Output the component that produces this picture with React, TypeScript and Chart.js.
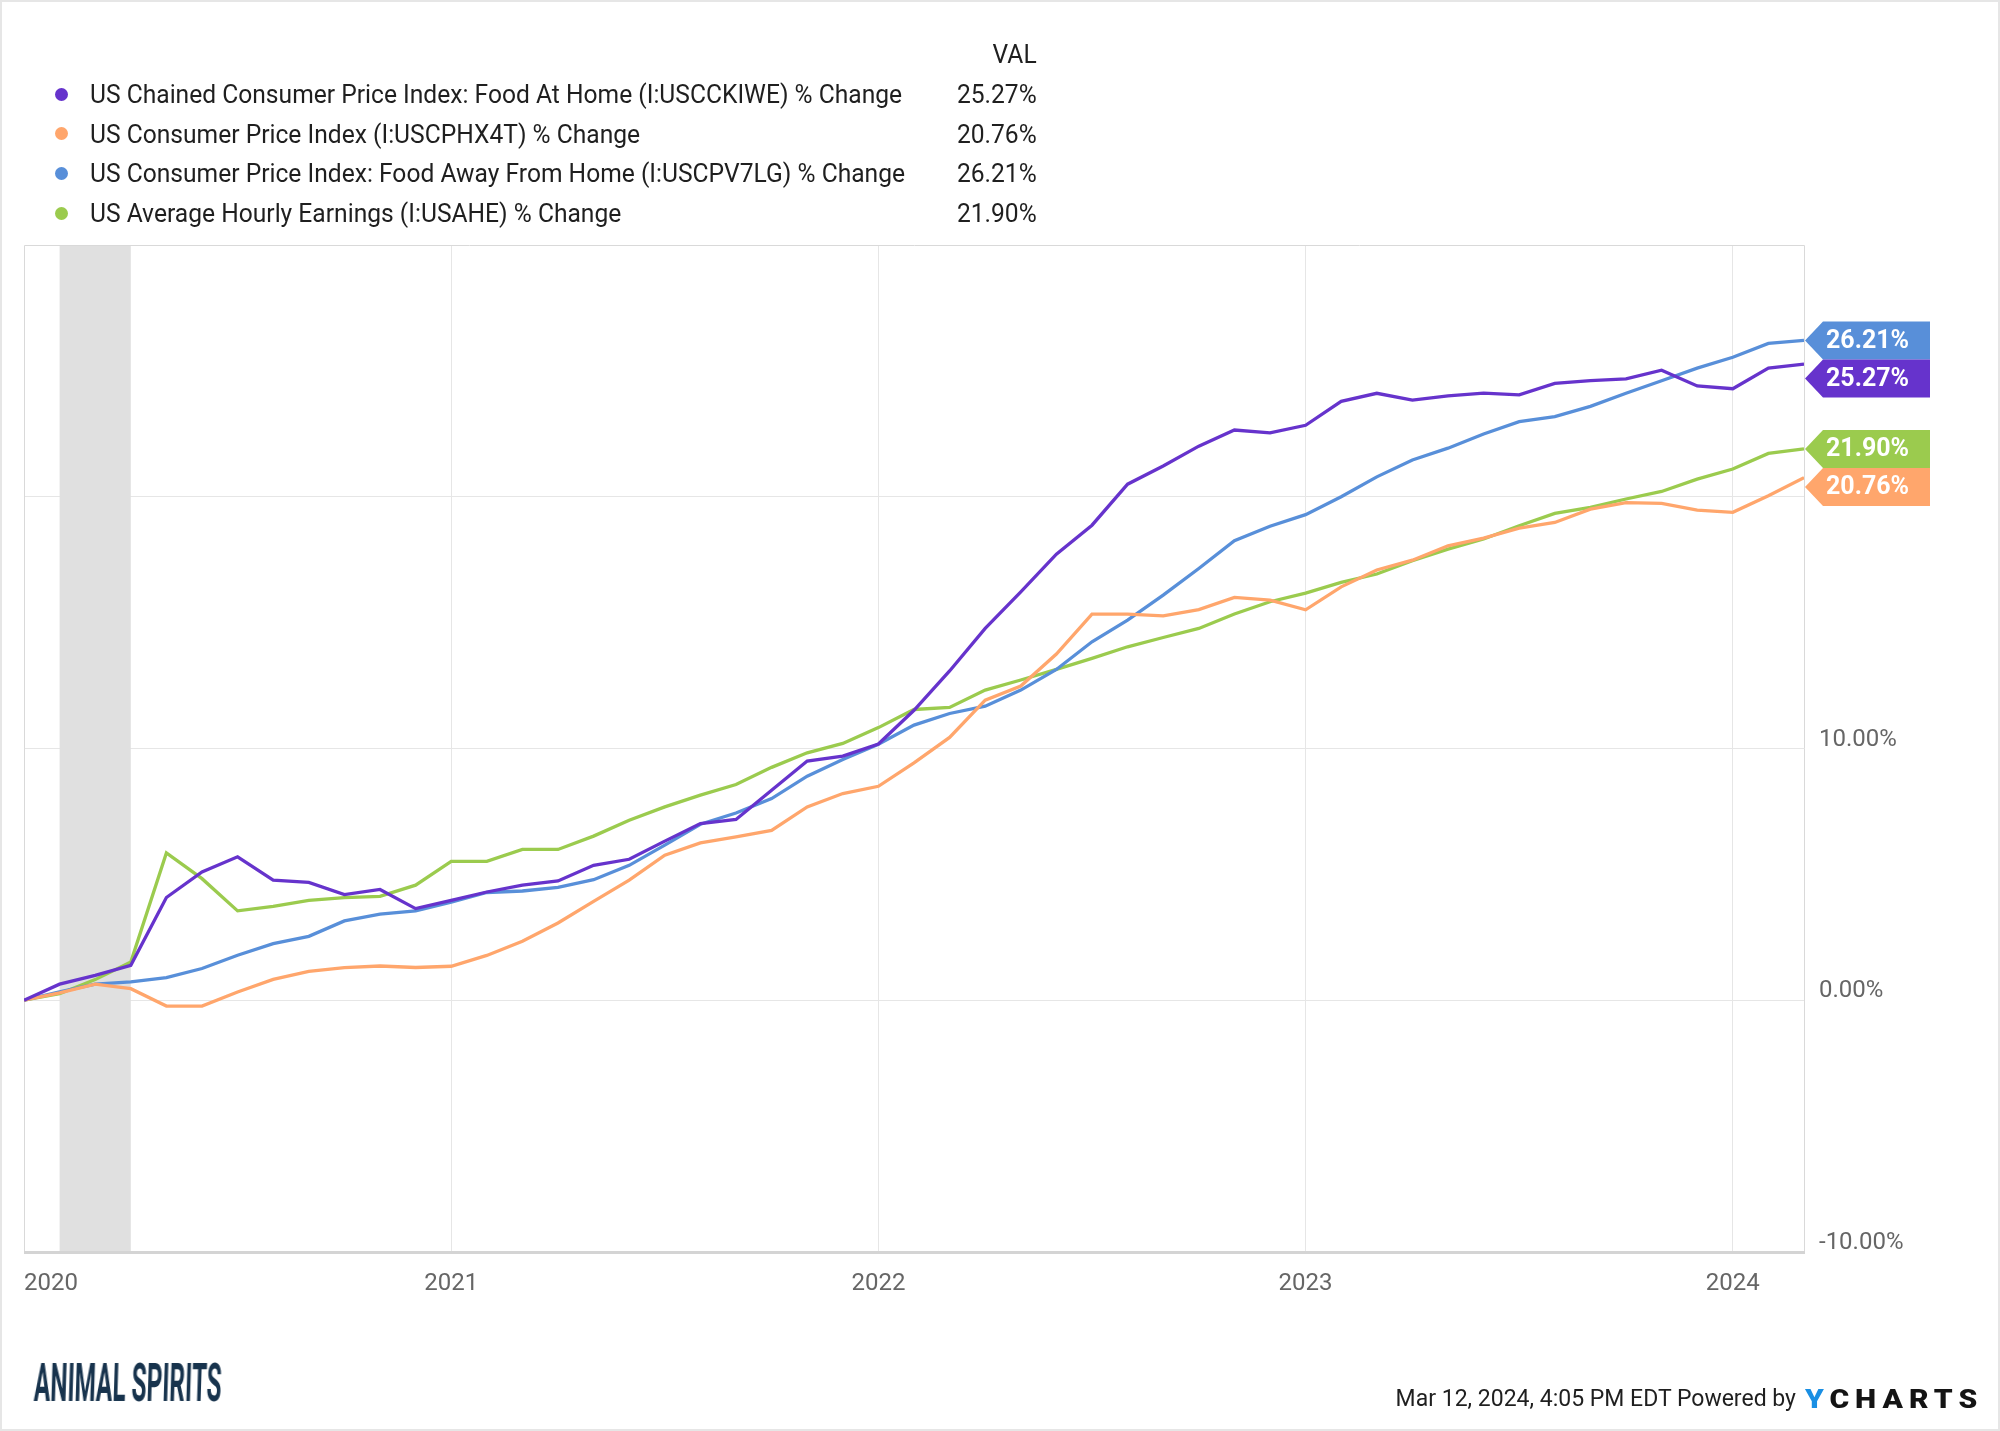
import React, { useEffect, useRef } from 'react';
import { Chart, registerables } from 'chart.js';

Chart.register(...registerables);

// Month-end observations, Dec 2019 (base) through Feb 2024
const months = [
  '2019-12',
  '2020-01', '2020-02', '2020-03', '2020-04', '2020-05', '2020-06', '2020-07', '2020-08', '2020-09', '2020-10', '2020-11', '2020-12',
  '2021-01', '2021-02', '2021-03', '2021-04', '2021-05', '2021-06', '2021-07', '2021-08', '2021-09', '2021-10', '2021-11', '2021-12',
  '2022-01', '2022-02', '2022-03', '2022-04', '2022-05', '2022-06', '2022-07', '2022-08', '2022-09', '2022-10', '2022-11', '2022-12',
  '2023-01', '2023-02', '2023-03', '2023-04', '2023-05', '2023-06', '2023-07', '2023-08', '2023-09', '2023-10', '2023-11', '2023-12',
  '2024-01', '2024-02',
];

const foodAtHome = [
  0, 0.64, 0.99, 1.39, 4.08, 5.10, 5.70, 4.77, 4.68, 4.20, 4.40, 3.64, 3.97,
  4.30, 4.57, 4.74, 5.36, 5.60, 6.32, 7.02, 7.18, 8.34, 9.50, 9.70, 10.18,
  11.52, 13.08, 14.77, 16.22, 17.72, 18.87, 20.50, 21.22, 22.01, 22.65, 22.54, 22.84,
  23.79, 24.11, 23.84, 24.01, 24.12, 24.05, 24.50, 24.61, 24.68, 25.03, 24.40, 24.29,
  25.11, 25.27,
];

const cpiAllItems = [
  0, 0.29, 0.64, 0.46, -0.23, -0.23, 0.33, 0.83, 1.15, 1.30, 1.36, 1.30, 1.35,
  1.78, 2.34, 3.07, 3.93, 4.77, 5.76, 6.25, 6.49, 6.75, 7.68, 8.21, 8.50,
  9.43, 10.44, 11.92, 12.48, 13.75, 15.34, 15.34, 15.27, 15.52, 16.00, 15.89, 15.51,
  16.42, 17.09, 17.48, 18.05, 18.36, 18.75, 18.98, 19.51, 19.77, 19.74, 19.47, 19.38,
  20.04, 20.76,
];

const foodAwayFromHome = [
  0, 0.33, 0.64, 0.73, 0.90, 1.26, 1.79, 2.25, 2.54, 3.15, 3.42, 3.55, 3.90,
  4.28, 4.34, 4.48, 4.79, 5.36, 6.16, 6.99, 7.44, 8.01, 8.90, 9.56, 10.17,
  10.93, 11.39, 11.68, 12.32, 13.14, 14.24, 15.10, 16.09, 17.15, 18.25, 18.83, 19.29,
  20.00, 20.79, 21.46, 21.93, 22.49, 22.98, 23.18, 23.59, 24.11, 24.61, 25.11, 25.54,
  26.09, 26.21,
];

const hourlyEarnings = [
  0, 0.26, 0.82, 1.52, 5.85, 4.83, 3.55, 3.73, 3.97, 4.08, 4.13, 4.57, 5.52,
  5.52, 5.99, 5.99, 6.52, 7.15, 7.68, 8.15, 8.57, 9.25, 9.83, 10.20, 10.83,
  11.55, 11.63, 12.32, 12.72, 13.14, 13.58, 14.04, 14.41, 14.77, 15.34, 15.83, 16.17,
  16.60, 16.93, 17.46, 17.92, 18.32, 18.85, 19.34, 19.58, 19.91, 20.21, 20.70, 21.10,
  21.72, 21.90,
];

const seriesNames = [
  'US Chained Consumer Price Index: Food At Home (I:USCCKIWE) % Change',
  'US Consumer Price Index (I:USCPHX4T) % Change',
  'US Consumer Price Index: Food Away From Home (I:USCPV7LG) % Change',
  'US Average Hourly Earnings (I:USAHE) % Change',
];
const seriesColors = ['#6633CC', '#FFA66C', '#588FD9', '#9BCB4E'];

const yearTickIndex = [0, 12, 24, 36, 48];
const yearTickLabels = ['2020', '2021', '2022', '2023', '2024'];
const yTickValues = [-10, 0, 10, 20, 30];
const yTickLabelled = [-10, 0, 10];
const recessionBand = [1, 3];

const FONT = 'Roboto, "Noto Sans", Arial, sans-serif';

export default function App() {
  const canvasRef = useRef<HTMLCanvasElement | null>(null);
  const allSeries = [foodAtHome, cpiAllItems, foodAwayFromHome, hourlyEarnings];

  useEffect(() => {
    document.body.style.margin = '0';
    const canvas = canvasRef.current;
    if (!canvas) return;

    const decor = {
      id: 'ycDecor',
      beforeDatasetsDraw(chart: any) {
        const { ctx, chartArea: a, scales } = chart;
        const x = scales.x;
        ctx.save();
        const x0 = x.getPixelForValue(recessionBand[0]);
        const x1 = x.getPixelForValue(recessionBand[1]);
        ctx.fillStyle = '#e0e0e0';
        ctx.fillRect(x0, a.top, x1 - x0, a.bottom - a.top);
        // frame
        ctx.strokeStyle = '#d9d9d9';
        ctx.lineWidth = 1;
        ctx.beginPath();
        ctx.moveTo(a.left + 0.5, a.bottom);
        ctx.lineTo(a.left + 0.5, a.top + 0.5);
        ctx.lineTo(a.right + 0.5, a.top + 0.5);
        ctx.lineTo(a.right + 0.5, a.bottom);
        ctx.stroke();
        ctx.strokeStyle = '#d4d4d4';
        ctx.lineWidth = 3;
        ctx.beginPath();
        ctx.moveTo(a.left, a.bottom + 0.5);
        ctx.lineTo(a.right + 1, a.bottom + 0.5);
        ctx.stroke();
        ctx.restore();
      },
      afterDatasetsDraw(chart: any) {
        const { ctx, chartArea: a, scales } = chart;
        const y = scales.y;
        const H = 38;
        const items = allSeries
          .map((s, i) => {
            const v = s[s.length - 1];
            return { v, color: seriesColors[i], py: y.getPixelForValue(v), cy: 0 };
          })
          .sort((p, q) => p.py - q.py);
        let prev = -Infinity;
        items.forEach((it) => {
          it.cy = Math.max(it.py, prev + H);
          prev = it.cy;
        });
        ctx.save();
        items.forEach((it) => {
          const tip = a.right + 1;
          const base = tip + 18;
          const rx = tip + 125;
          ctx.fillStyle = it.color;
          ctx.beginPath();
          ctx.moveTo(tip, it.cy);
          ctx.lineTo(base, it.cy - H / 2);
          ctx.lineTo(rx, it.cy - H / 2);
          ctx.lineTo(rx, it.cy + H / 2);
          ctx.lineTo(base, it.cy + H / 2);
          ctx.closePath();
          ctx.fill();
          ctx.fillStyle = '#ffffff';
          ctx.font = `bold 25px ${FONT}`;
          ctx.textAlign = 'center';
          ctx.textBaseline = 'middle';
          ctx.fillText(it.v.toFixed(2) + '%', (tip + rx) / 2, it.cy + 1);
        });
        ctx.restore();
      },
    };

    const chart = new Chart(canvas, {
      type: 'line',
      data: {
        datasets: allSeries.map((s, i) => ({
          label: seriesNames[i],
          data: s.map((v, j) => ({ x: j, y: v, month: months[j] })),
          borderColor: seriesColors[i],
          backgroundColor: seriesColors[i],
          borderWidth: 3.3,
          pointRadius: 0,
          tension: 0,
          fill: false,
        })),
      },
      options: {
        animation: false,
        responsive: false,
        maintainAspectRatio: false,
        devicePixelRatio: 1,
        layout: { padding: { top: 245, left: 24, right: 0, bottom: 0 } },
        plugins: {
          legend: { display: false },
          tooltip: { enabled: false },
        },
        scales: {
          x: {
            type: 'linear',
            min: 0,
            max: months.length - 1,
            afterBuildTicks: (axis: any) => {
              axis.ticks = [...yearTickIndex, months.length - 1].map((value) => ({ value }));
            },
            afterFit: (axis: any) => {
              axis.height = 179;
            },
            border: { display: false },
            grid: {
              drawTicks: false,
              lineWidth: 1,
              color: (c: any) =>
                c.tick && (c.tick.value === 0 || c.tick.value === months.length - 1) ? 'rgba(0,0,0,0)' : '#e6e6e6',
            },
            ticks: {
              autoSkip: false,
              maxRotation: 0,
              align: 'inner',
              padding: 18,
              color: '#666666',
              font: { family: FONT, size: 24 },
              callback: (value: any) => {
                const k = yearTickIndex.indexOf(Number(value));
                return k >= 0 ? yearTickLabels[k] : '';
              },
            },
          },
          y: {
            position: 'right',
            min: -10,
            max: 30,
            afterBuildTicks: (axis: any) => {
              axis.ticks = yTickValues.map((value) => ({ value }));
            },
            afterFit: (axis: any) => {
              axis.width = 196;
            },
            border: { display: false },
            grid: {
              drawTicks: false,
              lineWidth: 1,
              color: (c: any) =>
                c.tick && (c.tick.value === -10 || c.tick.value === 30) ? 'rgba(0,0,0,0)' : '#e6e6e6',
            },
            ticks: {
              padding: 15,
              labelOffset: -9,
              color: '#666666',
              font: { family: FONT, size: 24 },
              callback: (value: any) =>
                yTickLabelled.includes(Number(value)) ? Number(value).toFixed(2) + '%' : '',
            },
          },
        },
      } as any,
      plugins: [decor],
    });

    return () => chart.destroy();
  }, []);

  const rowY = [94, 133.5, 173, 213];
  const legendText: React.CSSProperties = {
    position: 'absolute',
    lineHeight: '30px',
    fontSize: 25.5,
    color: '#1f1f1f',
    whiteSpace: 'nowrap',
  };

  return (
    <div
      style={{
        position: 'relative',
        width: 2000,
        height: 1431,
        background: '#ffffff',
        overflow: 'hidden',
        fontFamily: FONT,
      }}
    >
      <canvas ref={canvasRef} width={2000} height={1431} style={{ position: 'absolute', left: 0, top: 0, width: 2000, height: 1431 }} />

      <div style={{ ...legendText, right: 2000 - 1037, top: 54 - 15, transformOrigin: 'right center', transform: 'scaleX(0.965)' }}>
        VAL
      </div>
      {seriesNames.map((name, i) => {
        const s = allSeries[i];
        return (
          <React.Fragment key={name}>
            <div
              style={{
                position: 'absolute',
                left: 61 - 6.5,
                top: rowY[i] - 6.5,
                width: 13,
                height: 13,
                borderRadius: 6.5,
                background: seriesColors[i],
              }}
            />
            <div style={{ ...legendText, left: 90, top: rowY[i] - 15, transformOrigin: 'left center', transform: 'scaleX(0.965)' }}>
              {name}
            </div>
            <div style={{ ...legendText, right: 2000 - 1037, top: rowY[i] - 15, transformOrigin: 'right center', transform: 'scaleX(0.965)' }}>
              {s[s.length - 1].toFixed(2)}%
            </div>
          </React.Fragment>
        );
      })}

      <div
        style={{
          position: 'absolute',
          left: 35,
          top: 1356,
          fontSize: 54,
          lineHeight: '54px',
          fontWeight: 700,
          color: '#17334d',
          whiteSpace: 'nowrap',
          transformOrigin: 'left top',
          transform: 'scaleX(0.45) skewX(-4deg)',
        }}
      >
        ANIMAL SPIRITS
      </div>

      <div
        style={{
          position: 'absolute',
          right: 2000 - 1796,
          top: 1399 - 15,
          lineHeight: '30px',
          fontSize: 23,
          color: '#1f1f1f',
          whiteSpace: 'nowrap',
        }}
      >
        Mar 12, 2024, 4:05 PM EDT Powered by
      </div>
      <div
        style={{
          position: 'absolute',
          left: 1805,
          top: 1384,
          lineHeight: '32px',
          fontSize: 25,
          fontWeight: 900,
          letterSpacing: '5px',
          color: '#141414',
          whiteSpace: 'nowrap',
          transformOrigin: 'left center',
          transform: 'scaleX(1.2)',
        }}
      >
        <span style={{ color: '#1a8fe3' }}>Y</span>CHARTS
      </div>

      <div
        style={{
          position: 'absolute',
          left: 0,
          top: 0,
          width: 2000,
          height: 1431,
          boxSizing: 'border-box',
          border: '2px solid #e6e6e6',
          pointerEvents: 'none',
        }}
      />
    </div>
  );
}
